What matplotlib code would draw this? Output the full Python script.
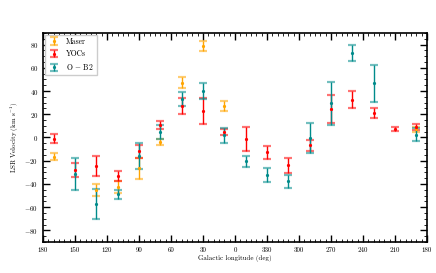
import numpy as np
import matplotlib
matplotlib.use("Agg")
import matplotlib.pyplot as plt
from matplotlib.ticker import MultipleLocator, FixedLocator, FixedFormatter

plt.rcParams['font.family'] = 'serif'
plt.rcParams['font.serif'] = ['cmr10', 'DejaVu Serif']
plt.rcParams['mathtext.fontset'] = 'cm'
plt.rcParams['axes.formatter.use_mathtext'] = True

nan = np.nan
longitude = [170, 150, 130, 110, 90, 70, 50, 30, 10, -10, -30, -50, -70, -90, -110, -130, -150, -170]

maser_v = [-16.5, nan, -45.0, -42.5, -26.6, -3.8, 47.3, 79.0, 27.0, nan, nan, nan, nan, nan, nan, nan, nan, 6.9]
maser_e = [3.0, nan, 5.0, 5.3, 9.0, 2.3, 5.0, 4.5, 4.0, nan, nan, nan, nan, nan, nan, nan, nan, 1.8]

yoc_v = [-1.0, -28.0, -24.6, -33.0, -12.0, 10.7, 27.0, 22.5, 4.8, -1.0, -12.7, -23.9, -6.6, 24.5, 32.7, 21.3, 7.0, 8.9]
yoc_e = [4.0, 6.2, 9.0, 4.2, 5.5, 3.7, 7.2, 11.2, 2.9, 10.3, 5.7, 6.3, 4.7, 12.4, 7.5, 4.3, 1.7, 2.5]

ob_v = [nan, -31.3, -57.3, -49.0, -15.9, 4.6, 33.3, 40.0, 1.8, -20.5, -32.2, -37.6, -0.5, 29.3, 73.0, 46.5, nan, 2.5]
ob_e = [nan, 13.7, 12.9, 4.0, 11.4, 6.1, 6.3, 6.5, 6.5, 4.9, 6.3, 5.7, 12.7, 18.6, 7.0, 16.3, nan, 5.4]

xtick_pos = [180, 150, 120, 90, 60, 30, 0, -30, -60, -90, -120, -150, -180]
xtick_labels = ['180', '150', '120', '90', '60', '30', '0', '330', '300', '270', '240', '210', '180']

series = [
    ("Maser", maser_v, maser_e, "#FFA500"),
    ("YOCs", yoc_v, yoc_e, "#FF0000"),
    (r"O $-$ B2", ob_v, ob_e, "#008B8B"),
]

fig = plt.figure(figsize=(4.36, 2.73), dpi=100)
ax = fig.add_axes([0.0986, 0.1136, 0.8808, 0.7656])

for label, v, e, c in series:
    cont = ax.errorbar(longitude, v, yerr=e, fmt='o', ms=1.3, color=c, ecolor=c,
                       elinewidth=1.0, capsize=2.6, capthick=1.6, label=label)
    for cap in cont[1]:
        cap.set_alpha(0.55)

ax.set_xlim(180, -180)
ax.set_ylim(-90, 90)
ax.xaxis.set_major_locator(FixedLocator(xtick_pos))
ax.xaxis.set_major_formatter(FixedFormatter(xtick_labels))
ax.xaxis.set_minor_locator(MultipleLocator(5))
ax.yaxis.set_major_locator(MultipleLocator(20))
ax.yaxis.set_minor_locator(MultipleLocator(5))
ax.tick_params(which='both', direction='in', top=True, right=True, labelsize=5)
ax.tick_params(which='major', length=5, width=1.0)
ax.tick_params(which='minor', length=2.5, width=0.6)
for s in ax.spines.values():
    s.set_linewidth(1.2)

ax.set_xlabel("Galactic longitude (deg)", fontsize=5, labelpad=2)
ax.set_ylabel(r"LSR Velocity (km s$^{-1}$)", fontsize=5, labelpad=2)

leg = ax.legend(loc='upper left', fontsize=5.5, frameon=True, fancybox=False,
                edgecolor='#cccccc', framealpha=1, borderpad=0.4, handlelength=1.6,
                labelspacing=0.5, borderaxespad=0.2)

fig.savefig("out.png", dpi=100)
